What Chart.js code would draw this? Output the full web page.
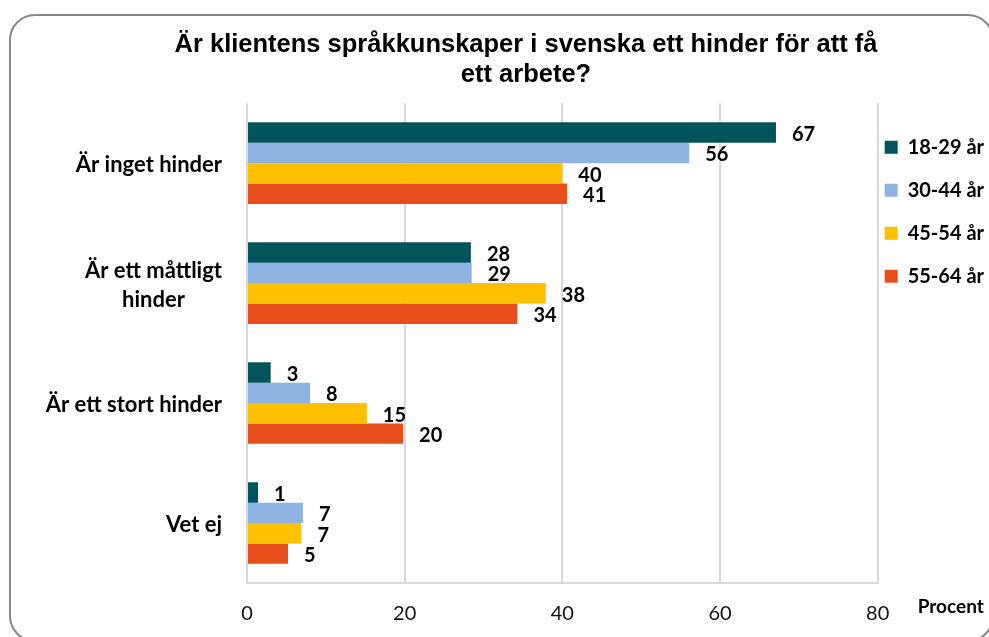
<!DOCTYPE html>
<html>
<head>
<meta charset="utf-8">
<script src="https://cdn.jsdelivr.net/npm/chart.js@4.4.1/dist/chart.umd.min.js"></script>
<style>
html,body{margin:0;padding:0;background:#fff;}
#wrap{position:relative;width:989px;height:637px;overflow:hidden;background:#fff;}
#frame{position:absolute;left:9px;top:14px;width:985px;height:628px;border:2px solid #878787;border-radius:26px;box-sizing:border-box;}
#c{position:absolute;left:0;top:0;}
</style>
</head>
<body>
<div id="wrap"><div id="frame"></div><canvas id="c" width="989" height="637"></canvas></div>
<script>
// ---- data ----
const titleLines = ["Är klientens språkkunskaper i svenska ett hinder för att få", "ett arbete?"];
const categories = [["Är inget hinder"], ["Är ett måttligt", "hinder"], ["Är ett stort hinder"], ["Vet ej"]];
const seriesNames = ["18-29 år", "30-44 år", "45-54 år", "55-64 år"];
const values1829 = [67.1, 28.4, 3.0, 1.4];
const values3044 = [56.1, 28.5, 8.0, 7.1];
const values4554 = [40.0, 37.9, 15.2, 6.9];
const values5564 = [40.6, 34.3, 19.8, 5.2];
const labels1829 = [67, 28, 3, 1];
const labels3044 = [56, 29, 8, 7];
const labels4554 = [40, 38, 15, 7];
const labels5564 = [41, 34, 20, 5];
const xTicks = [0, 20, 40, 60, 80];
const xAxisLabel = "Procent";

const colors = ["#00545A", "#8DB3E2", "#FFC000", "#E94F1D"];
const allValues = [values1829, values3044, values4554, values5564];
const allLabels = [labels1829, labels3044, labels4554, labels5564];

const labelFont = "Lato, 'Open Sans', sans-serif";

const valueLabelPlugin = {
  id: 'valueLabels',
  afterDatasetsDraw(chart) {
    const ctx = chart.ctx;
    ctx.save();
    ctx.font = "bold 20px " + labelFont;
    ctx.fillStyle = "#000";
    ctx.textAlign = "left";
    ctx.textBaseline = "middle";
    chart.data.datasets.forEach((ds, di) => {
      const meta = chart.getDatasetMeta(di);
      meta.data.forEach((el, i) => {
        ctx.fillText(String(allLabels[di][i]), el.x + 16, el.y + 2);
      });
    });
    ctx.restore();
  }
};

const catLabelPlugin = {
  id: 'catLabels',
  afterDraw(chart) {
    const ctx = chart.ctx;
    const ys = chart.scales.y;
    const xs = chart.scales.x;
    ctx.save();
    ctx.font = "bold 22px " + labelFont;
    ctx.fillStyle = "#000";
    ctx.textAlign = "center";
    ctx.textBaseline = "middle";
    const rightEdge = chart.chartArea.left - 25;
    const lh = 29;
    categories.forEach((lines, i) => {
      const yc = ys.getPixelForTick(i) + 2;
      const w = Math.max(...lines.map(l => ctx.measureText(l).width));
      const xc = rightEdge - w / 2;
      const y0 = yc - (lines.length - 1) * lh / 2;
      lines.forEach((l, k) => ctx.fillText(l, xc, y0 + k * lh));
    });
    // axis unit label
    ctx.font = "bold 19px " + labelFont;
    ctx.textAlign = "left";
    ctx.fillText(xAxisLabel, xs.right + 40, xs.top + 24);
    ctx.restore();
  }
};

new Chart(document.getElementById('c'), {
  type: 'bar',
  data: {
    labels: categories,
    datasets: seriesNames.map((n, i) => ({
      label: n,
      data: allValues[i],
      backgroundColor: colors[i],
      borderWidth: 0,
      barPercentage: 1,
      categoryPercentage: 0.68
    }))
  },
  options: {
    indexAxis: 'y',
    responsive: false,
    animation: false,
    devicePixelRatio: 1,
    layout: { padding: { left: 58, right: -5, top: 0, bottom: -8 } },
    plugins: {
      tooltip: { enabled: false },
      title: {
        display: true,
        text: titleLines,
        color: '#000',
        font: { family: "'Liberation Sans', Arial, sans-serif", weight: 'bold', size: 25.5, lineHeight: 1.16 },
        padding: { top: 30.5, bottom: 13.5 }
      },
      legend: {
        position: 'right',
        align: 'start',
        fullSize: false,
        title: { display: true, text: '', font: { size: 10, lineHeight: 1.15 }, padding: { top: 15.5, bottom: 0 } },
        labels: {
          boxWidth: 13,
          boxHeight: 13,
          padding: 7,
          color: '#000',
          font: { family: labelFont, weight: 'bold', size: 20, lineHeight: 1.8 },
          generateLabels(chart) {
            return chart.data.datasets.map((ds, i) => ({
              text: [ds.label],
              fillStyle: ds.backgroundColor,
              strokeStyle: ds.backgroundColor,
              fontColor: '#000',
              lineWidth: 0,
              hidden: false,
              datasetIndex: i
            }));
          }
        }
      }
    },
    scales: {
      x: {
        min: 0,
        max: 80,
        afterBuildTicks(scale) { scale.ticks = xTicks.map(v => ({ value: v })); },
        ticks: { color: '#111', font: { family: labelFont, size: 20 }, padding: 19 },
        grid: { color: '#d9d9d9', lineWidth: 2, drawTicks: false },
        border: { color: '#d9d9d9', width: 2 }
      },
      y: {
        ticks: { display: false },
        grid: { display: false },
        border: { display: false },
        afterFit(scale) { scale.width = 189; }
      }
    }
  },
  plugins: [valueLabelPlugin, catLabelPlugin]
});
</script>
</body>
</html>
